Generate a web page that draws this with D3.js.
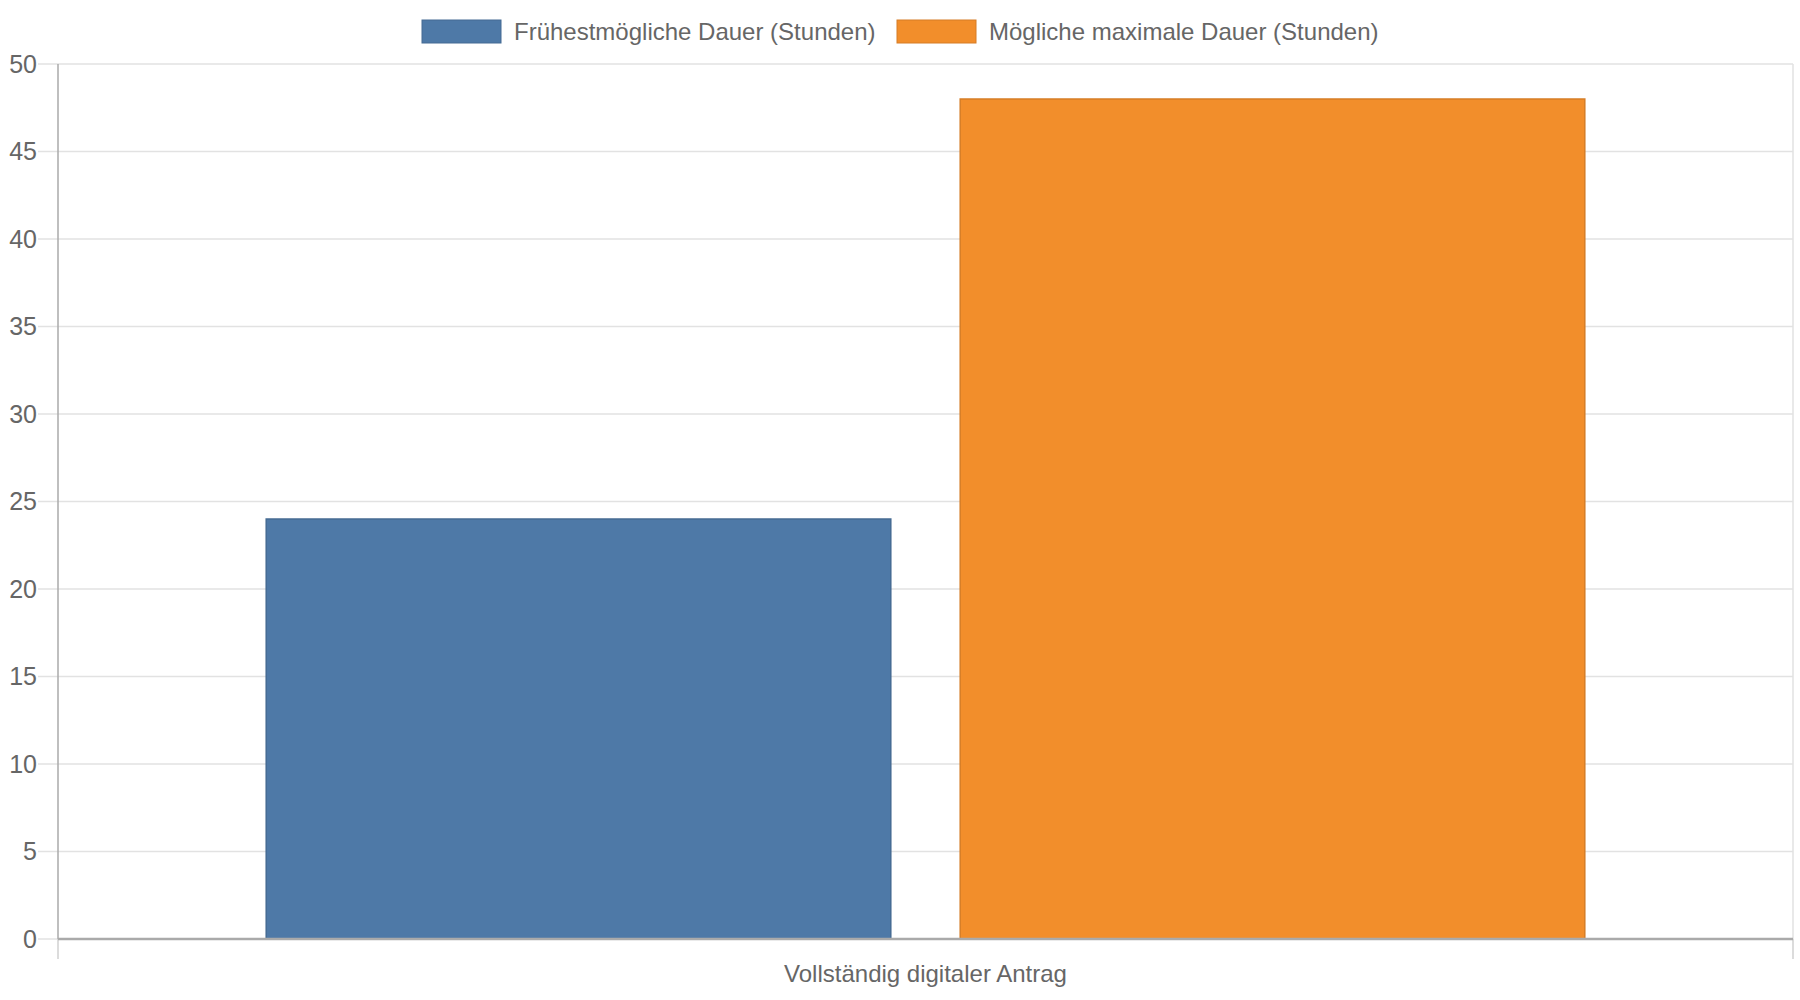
<!DOCTYPE html>
<html>
<head>
<meta charset="utf-8">
<script src="https://cdn.jsdelivr.net/npm/d3@7"></script>
<style>
  body { margin: 0; background: #fff; }
  text { font-family: "Liberation Sans", Arial, sans-serif; fill: #666; }
</style>
</head>
<body>
<script>
// chart data
var categories = ["Vollständig digitaler Antrag"];
var seriesNames = ["Frühestmögliche Dauer (Stunden)", "Mögliche maximale Dauer (Stunden)"];
var seriesValues = [[24], [48]];
var seriesColors = ["#4e79a7", "#f28e2b"];
var yTicks = [0, 5, 10, 15, 20, 25, 30, 35, 40, 45, 50];

const w = 1800;
const h = 1000;
const plotLeft = 58;
const plotRight = 1793;
const plotTop = 64;
const plotBottom = 939;

var svg = d3.select("body")
            .append("svg")
            .attr("width", w)
            .attr("height", h);

// scales
var x0 = d3.scaleBand()
           .domain(categories)
           .range([plotLeft, plotRight])
           .paddingOuter(0.1)
           .paddingInner(0.2);
var x1 = d3.scaleBand()
           .domain(seriesNames)
           .range([0, x0.bandwidth()])
           .paddingInner(0.1)
           .paddingOuter(0.05);
var yScale = d3.scaleLinear()
               .domain([0, 50])
               .range([plotBottom, plotTop]);

// horizontal grid + tick marks
svg.append("g")
   .selectAll("line")
   .data(yTicks)
   .enter()
   .append("line")
   .attr("x1", plotLeft - 20)
   .attr("x2", plotRight)
   .attr("y1", d => yScale(d))
   .attr("y2", d => yScale(d))
   .attr("stroke", "#e2e2e2")
   .attr("stroke-width", 1.5);

// vertical grid lines at category edges (with tick below the axis)
svg.append("g")
   .selectAll("line")
   .data([plotLeft, plotRight])
   .enter()
   .append("line")
   .attr("x1", d => d)
   .attr("x2", d => d)
   .attr("y1", plotBottom)
   .attr("y2", plotBottom + 20)
   .attr("stroke", "#d0d0d0")
   .attr("stroke-width", 1.5);

svg.append("g")
   .selectAll("line")
   .data([plotLeft, plotRight])
   .enter()
   .append("line")
   .attr("x1", d => d)
   .attr("x2", d => d)
   .attr("y1", plotTop)
   .attr("y2", plotBottom)
   .attr("stroke", (d, i) => i === 0 ? "#aaa" : "#e2e2e2")
   .attr("stroke-width", 1.5);

// y axis labels
svg.append("g")
   .attr("transform", "translate(" + plotLeft + ",0)")
   .call(d3.axisLeft(yScale).tickValues(yTicks).tickSize(0).tickPadding(21))
   .call(g => g.select(".domain").remove())
   .selectAll("text")
   .attr("font-size", 25)
   .attr("font-family", "Liberation Sans, Arial, sans-serif")
   .style("fill", "#666");

// bars
var groups = svg.append("g")
   .selectAll("g")
   .data(categories)
   .enter()
   .append("g")
   .attr("transform", d => "translate(" + x0(d) + ",0)");

groups.selectAll("rect")
   .data((d, ci) => seriesNames.map((s, si) => ({ s: s, v: seriesValues[si][ci], c: seriesColors[si] })))
   .enter()
   .append("rect")
   .attr("x", d => x1(d.s))
   .attr("width", x1.bandwidth())
   .attr("y", d => yScale(d.v))
   .attr("height", d => plotBottom - yScale(d.v))
   .attr("fill", d => d.c)
   .attr("stroke", d => d3.color(d.c).darker(0.35))
   .attr("stroke-width", 1.5);

// x axis baseline
svg.append("line")
   .attr("x1", plotLeft)
   .attr("x2", plotRight)
   .attr("y1", plotBottom)
   .attr("y2", plotBottom)
   .attr("stroke", "#aaa")
   .attr("stroke-width", 2.5);

// x axis labels
svg.append("g")
   .attr("transform", "translate(0," + plotBottom + ")")
   .call(d3.axisBottom(x0).tickSize(0).tickPadding(26))
   .call(g => g.select(".domain").remove())
   .selectAll("text")
   .attr("font-size", 24)
   .attr("font-family", "Liberation Sans, Arial, sans-serif")
   .style("fill", "#666");

// legend
var legendItems = [
  { name: seriesNames[0], color: seriesColors[0], x: 422 },
  { name: seriesNames[1], color: seriesColors[1], x: 897 }
];
var legend = svg.append("g")
   .selectAll("g")
   .data(legendItems)
   .enter()
   .append("g")
   .attr("transform", d => "translate(" + d.x + ",20)");

legend.append("rect")
   .attr("width", 79)
   .attr("height", 23)
   .attr("fill", d => d.color)
   .attr("stroke", d => d3.color(d.color).darker(0.35))
   .attr("stroke-width", 1);

legend.append("text")
   .attr("x", 92)
   .attr("y", 11.5)
   .attr("dy", "0.36em")
   .attr("font-size", 24)
   .text(d => d.name);
</script>
</body>
</html>
